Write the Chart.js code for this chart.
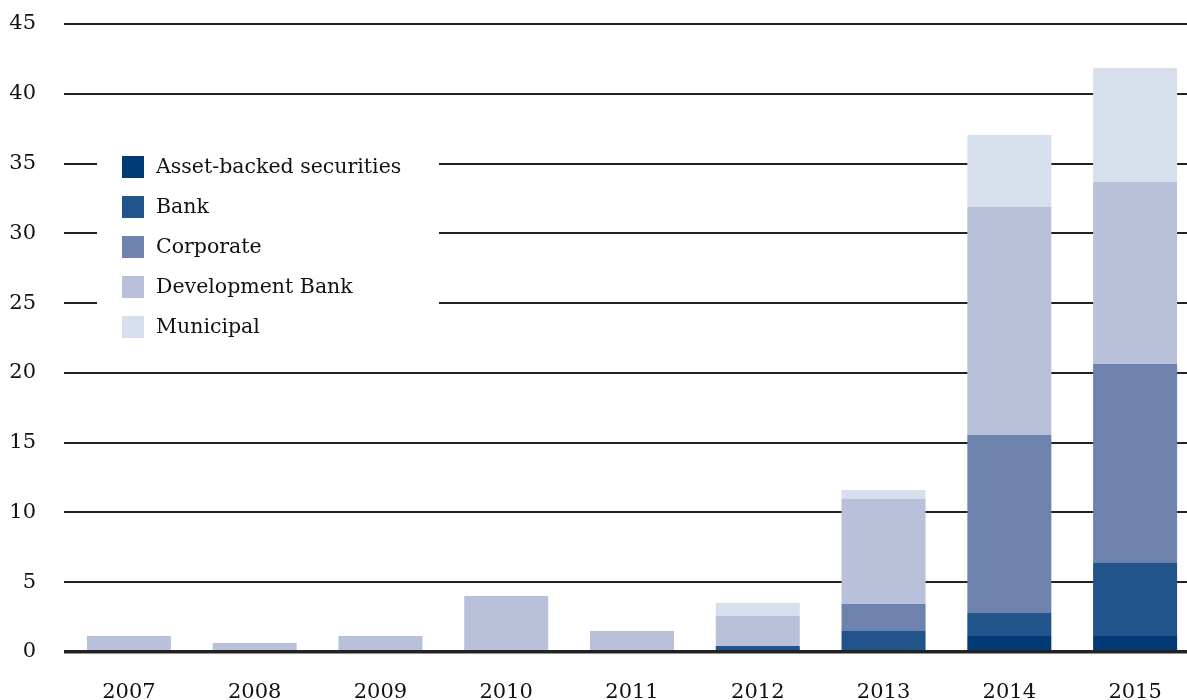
<!DOCTYPE html>
<html>
<head>
<meta charset="utf-8">
<script src="https://cdn.jsdelivr.net/npm/chart.js@4.4.1/dist/chart.umd.min.js"></script>
<style>
  html, body { margin: 0; padding: 0; background: #fff; overflow: hidden; }
  #wrap { position: relative; width: 1200px; height: 700px; }
</style>
</head>
<body>
<div id="wrap"><canvas id="c"></canvas></div>
<script>
const years = ['2007','2008','2009','2010','2011','2012','2013','2014','2015'];
const seriesNames = ['Asset-backed securities','Bank','Corporate','Development Bank','Municipal'];
const seriesColors = ['#023a78','#22548c','#6d83ae','#b9c1da','#d8dfec'];
const assetBacked = [0, 0, 0, 0, 0, 0, 0, 1.15, 1.15];
const bank        = [0, 0, 0, 0, 0, 0.43, 1.5, 1.64, 5.23];
const corporate   = [0, 0, 0, 0, 0, 0, 1.94, 12.76, 14.26];
const devBank     = [1.15, 0.65, 1.15, 4.01, 1.5, 2.15, 7.52, 16.34, 13.04];
const municipal   = [0, 0, 0, 0, 0, 0.93, 0.65, 5.15, 8.17];
const yTicks = [0, 5, 10, 15, 20, 25, 30, 35, 40, 45];

const seriesValues = [assetBacked, bank, corporate, devBank, municipal];
const FONT = 'DejaVu Serif';

const boxLegend = {
  id: 'boxLegend',
  beforeDatasetsDraw(chart) {
    const ctx = chart.ctx;
    ctx.save();
    ctx.fillStyle = '#ffffff';
    ctx.fillRect(97, 140, 342, 205);
    ctx.font = '20.5px "' + FONT + '"';
    ctx.textBaseline = 'middle';
    ctx.textAlign = 'left';
    chart.data.datasets.forEach((ds, i) => {
      const y = 156 + i * 40;
      ctx.fillStyle = ds.backgroundColor;
      ctx.fillRect(122, y, 22, 22);
      ctx.fillStyle = '#111111';
      ctx.fillText(ds.label, 156, y + 12);
    });
    ctx.restore();
  }
};

new Chart(document.getElementById('c'), {
  type: 'bar',
  data: {
    labels: years,
    datasets: seriesNames.map((n, i) => ({
      label: n,
      data: seriesValues[i],
      backgroundColor: seriesColors[i],
      borderWidth: 0,
      categoryPercentage: 1,
      barPercentage: 0.668
    }))
  },
  options: {
    responsive: true,
    maintainAspectRatio: false,
    animation: false,
    layout: { padding: { top: 24, right: 2, bottom: 0, left: 0 } },
    plugins: { legend: { display: false }, tooltip: { enabled: false } },
    scales: {
      x: {
        stacked: true,
        grid: { display: false },
        border: { display: true, color: '#222222', width: 3.5, z: 1 },
        ticks: { color: '#111111', font: { family: FONT, size: 21 }, padding: 20, maxRotation: 0 },
        afterFit(axis) { axis.height = 48; axis.paddingLeft = 0; axis.paddingRight = 0; }
      },
      y: {
        stacked: true,
        min: 0, max: 45,
        afterBuildTicks(axis) { axis.ticks = yTicks.map(v => ({ value: v })); },
        grid: { color: '#222222', lineWidth: 2, drawTicks: true, tickLength: 2 },
        border: { display: false },
        ticks: { color: '#111111', font: { family: FONT, size: 21 }, padding: 28 },
        afterFit(axis) { axis.width = 66; axis.paddingTop = 0; axis.paddingBottom = 0; }
      }
    }
  },
  plugins: [boxLegend]
});
</script>
</body>
</html>
